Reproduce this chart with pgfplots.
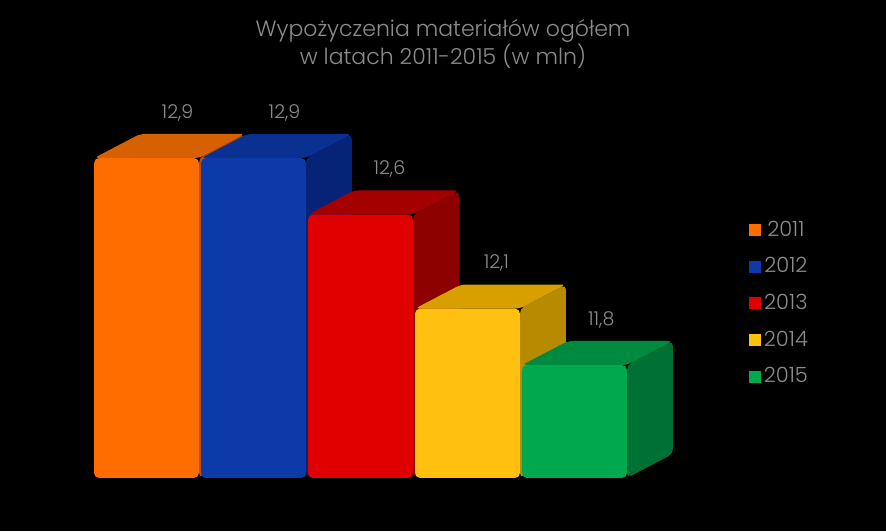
\documentclass[border=0pt]{standalone}
\usepackage{pgfplots}
\pgfplotsset{compat=1.18}
\usepackage{fontspec}
\setmainfont{Poppins}[UprightFont={* Light}]
\definecolor{txt}{RGB}{140,140,140}
\definecolor{oF}{RGB}{255,108,0}\definecolor{oT}{RGB}{215,96,0}\definecolor{oS}{RGB}{190,80,0}
\definecolor{bF}{RGB}{12,58,168}\definecolor{bT}{RGB}{10,48,145}\definecolor{bS}{RGB}{5,36,120}
\definecolor{rF}{RGB}{225,0,0}\definecolor{rT}{RGB}{165,0,0}\definecolor{rS}{RGB}{140,0,0}
\definecolor{yF}{RGB}{255,192,16}\definecolor{yT}{RGB}{215,160,0}\definecolor{yS}{RGB}{184,138,0}
\definecolor{gF}{RGB}{0,168,78}\definecolor{gT}{RGB}{0,138,64}\definecolor{gS}{RGB}{0,112,53}
\begin{document}
\begin{tikzpicture}
\fill[black] (0,0) rectangle (443pt,265.5pt);
\begin{axis}[
  at={(0,0)}, anchor=south west,
  scale only axis, width=443pt, height=265.5pt,
  xmin=-1.369, xmax=6.911, ymin=10.918, ymax=13.740,
  hide axis, clip=false,
  every axis plot/.append style={draw=none, rounded corners=2.5pt},
  legend image code/.code={\fill[#1, sharp corners] (0pt,-3pt) rectangle (6pt,3pt);},
  legend style={at={(0.838,0.60)}, anchor=north west, draw=none, fill=none,
    text=txt, font=\fontsize{10.5}{12}\selectfont, row sep=5.2pt,
    nodes={inner xsep=1.5pt}},
]
% 2011
\addplot[fill=oS, forget plot] coordinates {(0.49,11.2) (0.92,11.328) (0.92,13.028) (0.49,12.9)} -- cycle;
\addplot[fill=oT, forget plot] coordinates {(-0.49,12.9) (-0.06,13.028) (0.92,13.028) (0.49,12.9)} -- cycle;
\addplot[fill=oF] coordinates {(-0.49,11.2) (0.49,11.2) (0.49,12.9) (-0.49,12.9)} -- cycle;
\addlegendentry{2011}
% 2012
\addplot[fill=bS, forget plot] coordinates {(1.49,11.2) (1.92,11.328) (1.92,13.028) (1.49,12.9)} -- cycle;
\addplot[fill=bT, forget plot] coordinates {(0.51,12.9) (0.94,13.028) (1.92,13.028) (1.49,12.9)} -- cycle;
\addplot[fill=bF] coordinates {(0.51,11.2) (1.49,11.2) (1.49,12.9) (0.51,12.9)} -- cycle;
\addlegendentry{2012}
% 2013
\addplot[fill=rS, forget plot] coordinates {(2.49,11.2) (2.92,11.328) (2.92,12.728) (2.49,12.6)} -- cycle;
\addplot[fill=rT, forget plot] coordinates {(1.51,12.6) (1.94,12.728) (2.92,12.728) (2.49,12.6)} -- cycle;
\addplot[fill=rF] coordinates {(1.51,11.2) (2.49,11.2) (2.49,12.6) (1.51,12.6)} -- cycle;
\addlegendentry{2013}
% 2014
\addplot[fill=yS, forget plot] coordinates {(3.49,11.2) (3.92,11.328) (3.92,12.228) (3.49,12.1)} -- cycle;
\addplot[fill=yT, forget plot] coordinates {(2.51,12.1) (2.94,12.228) (3.92,12.228) (3.49,12.1)} -- cycle;
\addplot[fill=yF] coordinates {(2.51,11.2) (3.49,11.2) (3.49,12.1) (2.51,12.1)} -- cycle;
\addlegendentry{2014}
% 2015
\addplot[fill=gS, forget plot] coordinates {(4.49,11.2) (4.92,11.328) (4.92,11.928) (4.49,11.8)} -- cycle;
\addplot[fill=gT, forget plot] coordinates {(3.51,11.8) (3.94,11.928) (4.92,11.928) (4.49,11.8)} -- cycle;
\addplot[fill=gF] coordinates {(3.51,11.2) (4.49,11.2) (4.49,11.8) (3.51,11.8)} -- cycle;
\addlegendentry{2015}
% labels
\addplot[nodes near coords, only marks, mark=none, forget plot,
  point meta=explicit symbolic,
  nodes near coords style={text=txt, font=\fontsize{9.5}{11}\selectfont, anchor=south, yshift=3pt}]
  coordinates {(0.29,13.028)[12,9] (1.29,13.028)[12,9] (2.27,12.728)[12,6] (3.27,12.228)[12,1] (4.25,11.928)[11,8]};
\node[text=txt, align=center, font=\fontsize{11}{13}\selectfont] at (rel axis cs:0.5,0.917)
  {Wypożyczenia materiałów ogółem\\w latach 2011-2015 (w mln)};
\end{axis}
\end{tikzpicture}
\end{document}
